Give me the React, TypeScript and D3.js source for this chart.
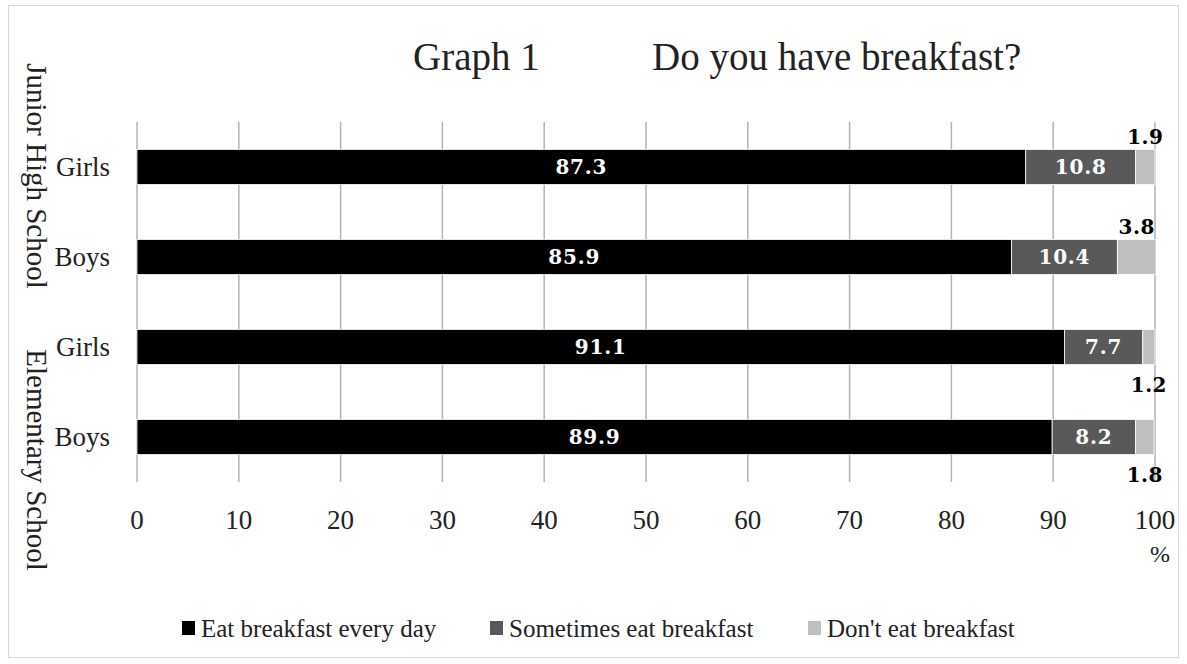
import * as d3 from "d3";

const categories = ["Girls", "Boys", "Girls", "Boys"];
const everyDay = [87.3, 85.9, 91.1, 89.9];
const sometimes = [10.8, 10.4, 7.7, 8.2];
const never = [1.9, 3.8, 1.2, 1.8];
const neverLabelSide = ["above", "above", "below", "below"];
const groups = [
  { name: "Junior High School", rows: [0, 1] },
  { name: "Elementary School", rows: [2, 3] },
];
const seriesNames = [
  "Eat breakfast every day",
  "Sometimes eat breakfast",
  "Don't eat breakfast",
];
const seriesColors = ["#000000", "#595959", "#bfbfbf"];
const ticks = [0, 10, 20, 30, 40, 50, 60, 70, 80, 90, 100];

const serif = "'Liberation Serif', 'DejaVu Serif', serif";
const labelFont = "'DejaVu Serif', serif";

export default function App() {
  const width = 1187;
  const height = 664;
  const left = 137;
  const right = 1155;
  const top = 122;
  const bottom = 482;

  const x = d3.scaleLinear().domain([0, 100]).range([left, right]);
  const y = d3
    .scaleBand<number>()
    .domain(categories.map((_, i) => i))
    .range([top, bottom])
    .paddingInner(0.61)
    .paddingOuter(0.305);

  const rows = categories.map((c, i) => {
    const vals = [everyDay[i], sometimes[i], never[i]];
    let acc = 0;
    const segs = vals.map((v, k) => {
      const s = { x0: acc, x1: acc + v, v, k };
      acc += v;
      return s;
    });
    return { c, i, segs };
  });

  const bh = y.bandwidth();
  // vertical group label centres
  const groupCentres = [176, 460];

  return (
    <svg
      width={width}
      height={height}
      style={{ position: "absolute", left: 0, top: 0, background: "#fff" }}
    >
      <rect
        x={8.5}
        y={5.5}
        width={1170}
        height={652}
        fill="#fff"
        stroke="#d9d9d9"
        strokeWidth={1}
      />
      <text x={413} y={70} fontFamily={serif} fontSize={39} fill="#222">
        Graph 1
      </text>
      <text x={652} y={70} fontFamily={serif} fontSize={39} fill="#222">
        Do you have breakfast?
      </text>

      {ticks.map((t) => (
        <g key={t}>
          <line
            x1={x(t)}
            x2={x(t)}
            y1={top}
            y2={bottom}
            stroke="#b3b3b3"
            strokeWidth={1.5}
          />
          <text
            x={x(t)}
            y={529}
            textAnchor="middle"
            fontFamily={serif}
            fontSize={27}
            fill="#222"
          >
            {t}
          </text>
        </g>
      ))}
      <text x={1160} y={562} textAnchor="middle" fontFamily={serif} fontSize={24} fill="#222">
        %
      </text>

      {rows.map((r) => {
        const by = y(r.i) as number;
        return (
          <g key={r.i}>
            <text
              x={110}
              y={by + bh / 2 + 9}
              textAnchor="end"
              fontFamily={serif}
              fontSize={27}
              fill="#222"
            >
              {r.c}
            </text>
            {r.segs.map((s) => (
              <rect
                key={s.k}
                x={x(s.x0)}
                y={by}
                width={x(s.x1) - x(s.x0)}
                height={bh}
                fill={seriesColors[s.k]}
                stroke="#fff"
                strokeWidth={0.8}
              />
            ))}
            {r.segs.slice(0, 2).map((s) => (
              <text
                key={"l" + s.k}
                x={(x(s.x0) + x(s.x1)) / 2}
                y={by + bh / 2 + 7}
                textAnchor="middle"
                fontFamily={labelFont}
                fontWeight="bold"
                fontSize={20}
                letterSpacing={0.8}
                fill="#fff"
              >
                {s.v.toFixed(1)}
              </text>
            ))}
            <text
              x={(x(r.segs[2].x0) + x(r.segs[2].x1)) / 2}
              y={neverLabelSide[r.i] === "above" ? by - 5 : by + bh + 27}
              textAnchor="middle"
              fontFamily={labelFont}
              fontWeight="bold"
              fontSize={20}
              letterSpacing={0.5}
              fill="#000"
            >
              {r.segs[2].v.toFixed(1)}
            </text>
          </g>
        );
      })}

      {groups.map((g, gi) => (
        <text
          key={g.name}
          transform={`translate(27, ${groupCentres[gi]}) rotate(90)`}
          textAnchor="middle"
          fontFamily={serif}
          fontSize={29}
          fill="#222"
        >
          {g.name}
        </text>
      ))}

      {seriesNames.map((n, k) => {
        const lx = [182, 490, 808][k];
        return (
          <g key={n}>
            <rect x={lx} y={621} width={13} height={14} fill={seriesColors[k]} />
            <text x={lx + 19} y={637} fontFamily={serif} fontSize={25} fill="#222">
              {n}
            </text>
          </g>
        );
      })}
    </svg>
  );
}
